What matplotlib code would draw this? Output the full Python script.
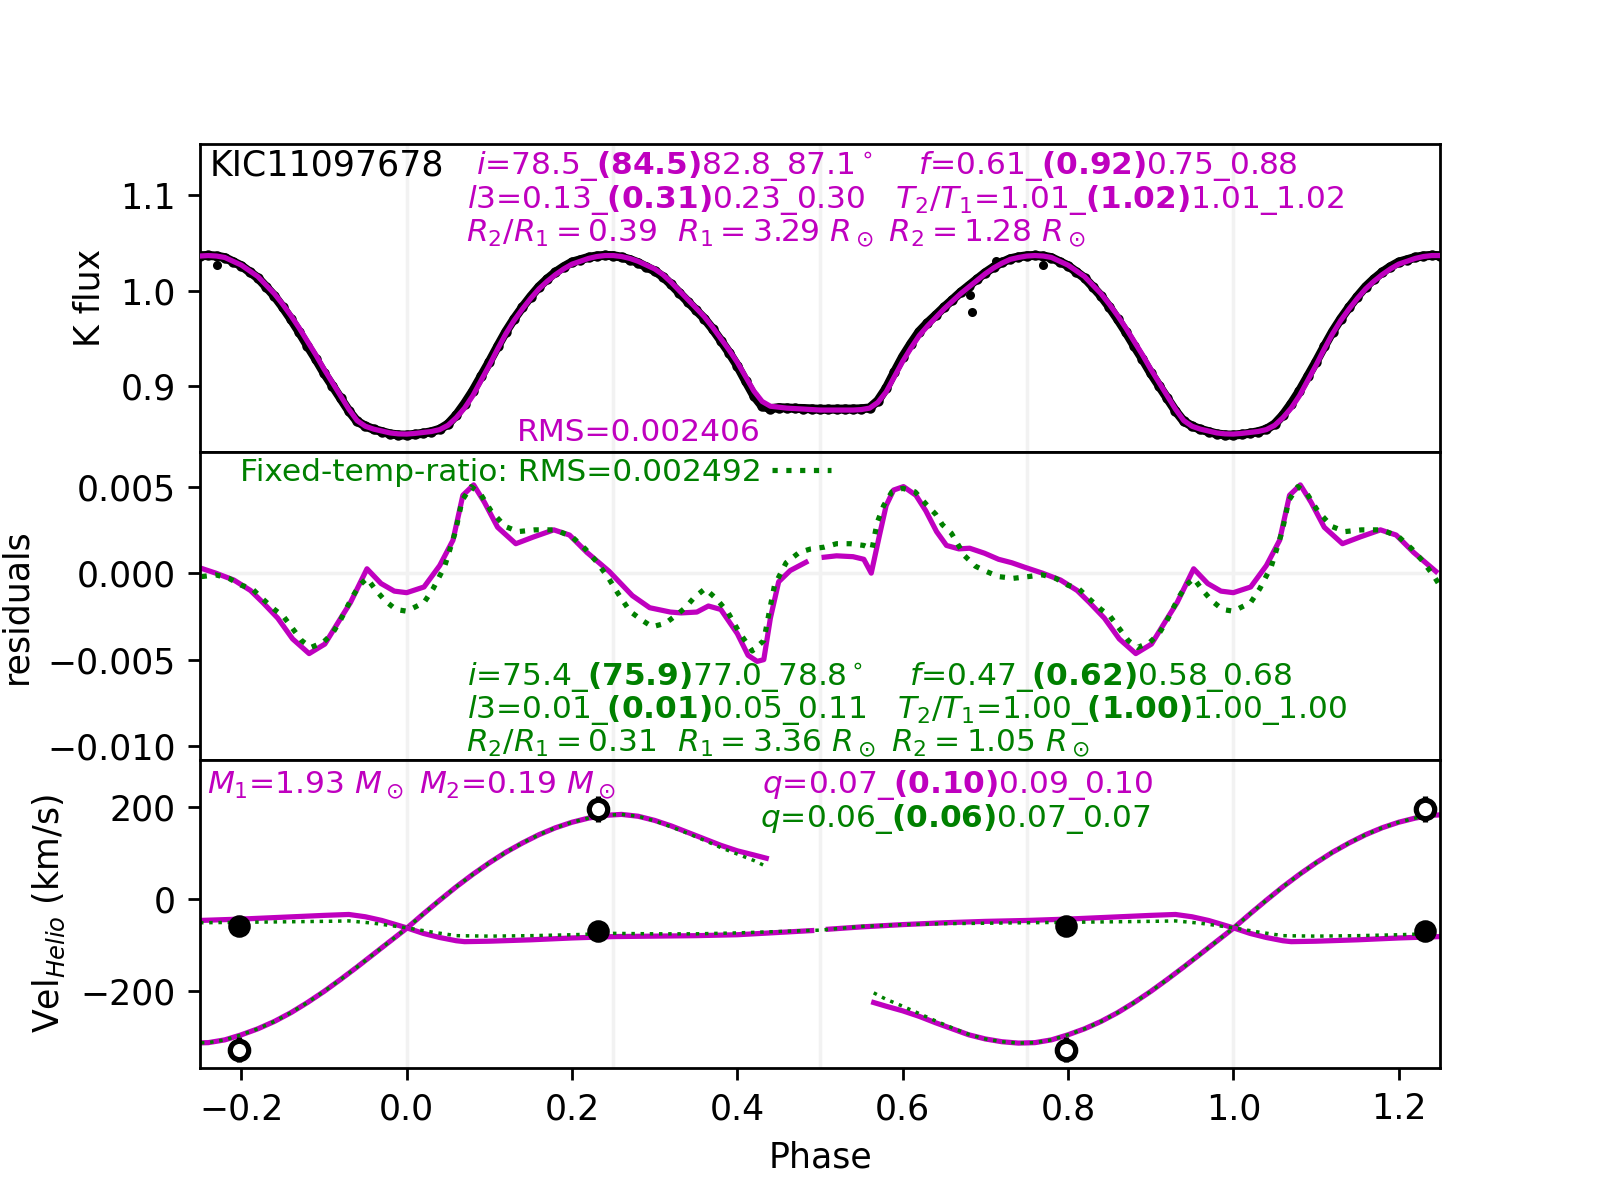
import numpy as np
import matplotlib
matplotlib.use("Agg")
import matplotlib.pyplot as plt

nan = np.nan

# ---- light curve, one phase cycle (tiled over -0.25..1.25 when drawn) ----
lc_phase = np.arange(101) / 100
lc_model = [0.8498, 0.8505, 0.8515, 0.8525, 0.8545, 0.859, 0.867, 0.877, 0.890, 0.906,
            0.922, 0.939, 0.955, 0.969, 0.981, 0.992, 1.002, 1.010, 1.017, 1.023,
            1.028, 1.031, 1.034, 1.036, 1.037, 1.037, 1.036, 1.034, 1.031, 1.027,
            1.023, 1.017, 1.009, 1.000, 0.991, 0.982, 0.973, 0.962, 0.950, 0.938,
            0.925, 0.910, 0.895, 0.884, 0.879, 0.878, 0.877, 0.8765, 0.876, 0.8755,
            0.875, 0.875, 0.875, 0.875, 0.875, 0.8755, 0.877, 0.883, 0.894, 0.910,
            0.926, 0.940, 0.953, 0.963, 0.972, 0.981, 0.989, 0.997, 1.004, 1.011,
            1.018, 1.024, 1.029, 1.033, 1.035, 1.0365, 1.037, 1.0365, 1.035, 1.031,
            1.027, 1.021, 1.015, 1.006, 0.997, 0.986, 0.974, 0.961, 0.947, 0.933,
            0.918, 0.904, 0.890, 0.876, 0.864, 0.858, 0.855, 0.853, 0.851, 0.850,
            0.8498]
obs_phase = np.arange(100) / 100
lc_obs = [0.8487, 0.8495, 0.8507, 0.8523, 0.8549, 0.8603, 0.8697, 0.8817, 0.8951, 0.9104,
          0.9256, 0.9417, 0.9572, 0.9707, 0.9828, 0.9940, 1.0042, 1.0124, 1.0195, 1.0253,
          1.0301, 1.0326, 1.0351, 1.0366, 1.0372, 1.0369, 1.0353, 1.0328, 1.0295, 1.0251,
          1.0209, 1.0148, 1.0067, 0.9977, 0.9887, 0.9798, 0.9710, 0.9601, 0.9479, 0.9353,
          0.9215, 0.9055, 0.8900, 0.8790, 0.8764, 0.8775, 0.8771, 0.8768, 0.8766, 0.8762,
          0.8758, 0.8759, 0.8760, 0.8760, 0.8760, 0.8763, 0.8772, 0.8848, 0.8979, 0.9148,
          0.9310, 0.9447, 0.9573, 0.9664, 0.9745, 0.9828, 0.9905, 0.9984, 1.0054, 1.0123,
          1.0191, 1.0249, 1.0298, 1.0336, 1.0355, 1.0368, 1.0371, 1.0365, 1.0348, 1.0306,
          1.0263, 1.0200, 1.0136, 1.0042, 0.9946, 0.9830, 0.9703, 0.9568, 0.9424, 0.9286,
          0.9139, 0.9006, 0.8873, 0.8742, 0.8632, 0.8582, 0.8548, 0.8524, 0.8500, 0.8489]
out_phase = [0.684, 0.681, 0.770, 0.713]
out_flux = [0.978, 0.996, 1.027, 1.031]

# ---- residuals (smoothed), one cycle ----
res_phase_m = [0.000, 0.021, 0.040, 0.056, 0.068, 0.081, 0.094, 0.110, 0.132, 0.154,
               0.178, 0.197, 0.218, 0.245, 0.273, 0.294, 0.319, 0.332, 0.351, 0.365,
               0.380, 0.400, 0.413, 0.424, 0.432, 0.440, 0.450, 0.464, 0.483, 0.494,
               0.505, 0.520, 0.540, 0.553, 0.562, 0.572, 0.580, 0.589, 0.601, 0.616,
               0.628, 0.641, 0.653, 0.668, 0.681, 0.699, 0.716, 0.732, 0.747, 0.769,
               0.791, 0.811, 0.826, 0.844, 0.862, 0.882, 0.901, 0.919, 0.932, 0.952,
               0.969, 0.985]
res_m = [-0.00113, -0.0008, 0.00044, 0.0019, 0.0045, 0.0051, 0.0041, 0.00265, 0.0017, 0.0021,
         0.0025, 0.0022, 0.0012, 0.0001, -0.0013, -0.0020, -0.00225, -0.0023, -0.00225, -0.0019,
         -0.0021, -0.0035, -0.00475, -0.0051, -0.0050, -0.0026, -0.0005, 0.00015, 0.00063, nan,
         0.00092, 0.0010, 0.00095, 0.0008, 0.0000, 0.0022, 0.0039, 0.0048, 0.0050, 0.0045,
         0.0036, 0.0024, 0.0016, 0.0014, 0.00144, 0.00115, 0.0008, 0.0006, 0.00035, 0.0000,
         -0.0004, -0.0010, -0.0017, -0.0026, -0.0038, -0.00465, -0.0041, -0.0027, -0.0017, 0.00025,
         -0.0006, -0.00104]
res_phase_g = [0.000, 0.021, 0.032, 0.046, 0.059, 0.067, 0.078, 0.089, 0.102, 0.119,
               0.135, 0.155, 0.180, 0.200, 0.216, 0.229, 0.243, 0.256, 0.270, 0.284,
               0.297, 0.313, 0.327, 0.337, 0.348, 0.361, 0.375, 0.389, 0.402, 0.418,
               0.432, 0.440, 0.445, 0.459, 0.475, 0.489, 0.505, 0.520, 0.537, 0.553,
               0.563, 0.569, 0.577, 0.587, 0.600, 0.615, 0.628, 0.640, 0.648, 0.659,
               0.675, 0.688, 0.701, 0.716, 0.734, 0.752, 0.769, 0.785, 0.800, 0.813,
               0.826, 0.840, 0.851, 0.862, 0.873, 0.884, 0.899, 0.910, 0.919, 0.934,
               0.943, 0.952, 0.963, 0.974, 0.987]
res_g = [-0.0022, -0.0017, -0.0009, 0.0004, 0.0024, 0.0042, 0.0050, 0.0046, 0.0036, 0.0027,
         0.0024, 0.0025, 0.0025, 0.0021, 0.0014, 0.0007, -0.0002, -0.0012, -0.0022, -0.0027,
         -0.0031, -0.0029, -0.0024, -0.0020, -0.0014, -0.0009, -0.0015, -0.0023, -0.0034, -0.0045,
         -0.0039, -0.0019, -0.0007, 0.0006, 0.0012, 0.0014, 0.0015, 0.0017, 0.0017, 0.0016,
         0.0014, 0.0029, 0.0039, 0.0047, 0.0049, 0.0047, 0.0040, 0.0034, 0.0028, 0.0023,
         0.0010, 0.0004, 0.0001, -0.0002, -0.0003, -0.0002, -0.0001, -0.0003, -0.0007, -0.0009,
         -0.0015, -0.0021, -0.0025, -0.0032, -0.0039, -0.0043, -0.0040, -0.0035, -0.0028, -0.0014,
         -0.0007, -0.0003, -0.0010, -0.0016, -0.0021]

# ---- radial velocities, one cycle ----
rv2_phase = [0.00, 0.02, 0.04, 0.06, 0.08, 0.10, 0.12, 0.14, 0.16, 0.18,
             0.20, 0.22, 0.24, 0.26, 0.28, 0.30, 0.32, 0.34, 0.36, 0.38,
             0.40, 0.42, 0.435, 0.50, 0.565, 0.58, 0.60, 0.62, 0.64, 0.66,
             0.68, 0.70, 0.72, 0.74, 0.76, 0.78, 0.80, 0.82, 0.84, 0.86,
             0.88, 0.90, 0.92, 0.94, 0.96, 0.98]
rv2_m = [-63, -32, -2, 27, 54, 79, 102, 122, 140, 155,
         167, 176, 182, 184, 180, 171, 159, 145, 131, 117,
         105, 96, 89, nan, -224, -232, -242, -254, -268, -281,
         -294, -303, -309, -312, -311, -305, -294, -281, -265, -246,
         -224, -200, -174, -147, -119, -91]
rv2_g = [-63, -32, -2, 27, 54, 79, 102, 122, 140, 155,
         167, 176, 182, 184, 180, 170, 157, 143, 128, 112,
         98, 84, 71, nan, -203, -217, -232, -248, -264, -279,
         -293, -303, -309, -312, -311, -305, -294, -281, -265, -246,
         -224, -200, -174, -147, -119, -91]
rv1_phase_m = [0.00, 0.02, 0.04, 0.06, 0.07, 0.10, 0.15, 0.20, 0.25, 0.30,
               0.35, 0.40, 0.45, 0.49, 0.50, 0.51, 0.55, 0.60, 0.65, 0.70,
               0.75, 0.80, 0.85, 0.90, 0.93, 0.95, 0.97]
rv1_m = [-62, -74, -83, -90, -92, -91, -88, -84, -81, -80,
         -79, -77, -72, -68, nan, -65, -60, -55, -51, -48,
         -46, -43, -39, -35, -33, -38, -46]
rv1_phase_g = [0.00, 0.03, 0.06, 0.10, 0.15, 0.20, 0.25, 0.30, 0.35, 0.40,
               0.45, 0.50, 0.55, 0.60, 0.65, 0.70, 0.75, 0.80, 0.85, 0.90,
               0.93, 0.96, 0.98]
rv1_g = [-62, -71, -79, -80, -79, -77, -74, -75, -75, -73,
         -70, -67, -59, -55, -53, -52, -51, -50, -49, -48,
         -47, -52, -57]
rv_obs_phase = [0.2316, 0.7976]
rv1_obs = [-69, -57]
rv1_err = [10, 10]
rv2_obs = [195, -326]
rv2_err = [28, 28]

MAG = "m"
GRN = "g"


def tile(phase, values, lo=-0.26, hi=1.26):
    x = np.concatenate([np.asarray(phase, float) + s for s in (-1, 0, 1)])
    y = np.tile(np.asarray(values, float), 3)
    keep = (x >= lo) & (x <= hi)
    return x[keep], y[keep]


fig, (ax1, ax2, ax3) = plt.subplots(3, 1, sharex=True, figsize=(6.4, 4.8))
fig.subplots_adjust(hspace=0)

for ax in (ax1, ax2, ax3):
    for xv in (0, 0.25, 0.5, 0.75, 1.0):
        ax.axvline(xv, color="0.95", lw=1, zorder=0)
ax2.axhline(0, color="0.95", lw=1, zorder=0)

# light curve
ax1.plot(*tile(obs_phase, lc_obs), "k-", lw=2.6, zorder=2)
ax1.plot(*tile(obs_phase, lc_obs), "ko", ms=2.0, zorder=2)
ax1.plot(*tile(out_phase, out_flux), "ko", ms=1.6, zorder=2)
ax1.plot(*tile(lc_phase, lc_model), color=MAG, lw=1.5, zorder=3)
ax1.set_ylim(0.831, 1.154)
ax1.set_yticks([0.9, 1.0, 1.1])
ax1.set_ylabel("K flux")

# residuals
ax2.plot(*tile(res_phase_m, res_m), color=MAG, lw=1.5)
gline, = ax2.plot(*tile(res_phase_g, res_g), color=GRN, lw=1.5, ls=":")
ax2.set_ylim(-0.0108, 0.0070)
ax2.set_yticks([-0.010, -0.005, 0.0, 0.005])
ax2.set_ylabel("residuals")
ax2.legend([gline], ["Fixed-temp-ratio: RMS=0.002492"], loc="upper left",
           bbox_to_anchor=(0.0225, 1.022), borderaxespad=0, frameon=False,
           markerfirst=False, labelcolor=GRN, fontsize=9,
           handlelength=1.9, handletextpad=0.3)

# radial velocities
ax3.plot(*tile(rv2_phase, rv2_m), color=MAG, lw=1.5)
ax3.plot(*tile(rv2_phase, rv2_g), color=GRN, lw=1.0, ls=":")
ax3.plot(*tile(rv1_phase_m, rv1_m), color=MAG, lw=1.5)
ax3.plot(*tile(rv1_phase_g, rv1_g), color=GRN, lw=1.0, ls=":")
px, py = tile(rv_obs_phase, rv1_obs)
_, pe = tile(rv_obs_phase, rv1_err)
ax3.errorbar(px, py, yerr=pe, fmt="o", color="k", ms=5.5, elinewidth=1.5,
             capsize=0, zorder=4)
sx, sy = tile(rv_obs_phase, rv2_obs)
_, se = tile(rv_obs_phase, rv2_err)
ax3.errorbar(sx, sy, yerr=se, fmt="o", color="k", mfc="white", mec="k", mew=1.5,
             ms=5.3, elinewidth=1.5, capsize=0, zorder=4)
ax3.set_ylim(-366, 302)
ax3.set_yticks([-200, 0, 200])
ax3.set_ylabel(r"Vel$_{Helio}$ (km/s)")
ax3.set_xlim(-0.25, 1.25)
ax3.set_xticks([-0.2, 0.0, 0.2, 0.4, 0.6, 0.8, 1.0, 1.2])
ax3.set_xlabel("Phase")

for ax in (ax1, ax2):
    ax.tick_params(axis="x", bottom=False, labelbottom=False)

# annotations
fs = 9
ax1.text(0.0081, 0.899, "KIC11097678", transform=ax1.transAxes, fontsize=10,
         va="baseline")
ax1.text(0.2223, 0.9016,
         r"$i$=78.5_$\mathbf{(84.5)}$82.8_87.1$^\circ$    $f$=0.61_$\mathbf{(0.92)}$0.75_0.88",
         transform=ax1.transAxes, color=MAG, fontsize=fs, va="baseline")
ax1.text(0.2152, 0.793,
         r"$l3$=0.13_$\mathbf{(0.31)}$0.23_0.30   $T_2/T_1$=1.01_$\mathbf{(1.02)}$1.01_1.02",
         transform=ax1.transAxes, color=MAG, fontsize=fs, va="baseline")
ax1.text(0.2145, 0.685,
         r"$R_2/R_1=0.39$  $R_1=3.29\ R_\odot$ $R_2=1.28\ R_\odot$",
         transform=ax1.transAxes, color=MAG, fontsize=fs, va="baseline")
ax1.text(0.2559, 0.037, "RMS=0.002406", transform=ax1.transAxes, color=MAG,
         fontsize=fs, va="baseline")

ax2.text(0.2152, 0.2435,
         r"$i$=75.4_$\mathbf{(75.9)}$77.0_78.8$^\circ$    $f$=0.47_$\mathbf{(0.62)}$0.58_0.68",
         transform=ax2.transAxes, color=GRN, fontsize=fs, va="baseline")
ax2.text(0.2152, 0.1354,
         r"$l3$=0.01_$\mathbf{(0.01)}$0.05_0.11   $T_2/T_1$=1.00_$\mathbf{(1.00)}$1.00_1.00",
         transform=ax2.transAxes, color=GRN, fontsize=fs, va="baseline")
ax2.text(0.2145, 0.027,
         r"$R_2/R_1=0.31$  $R_1=3.36\ R_\odot$ $R_2=1.05\ R_\odot$",
         transform=ax2.transAxes, color=GRN, fontsize=fs, va="baseline")

ax3.text(0.0059, 0.892, r"$M_1$=1.93 $M_\odot$ $M_2$=0.19 $M_\odot$",
         transform=ax3.transAxes, color=MAG, fontsize=fs, va="baseline")
ax3.text(0.453, 0.892, r"$q$=0.07_$\mathbf{(0.10)}$0.09_0.10",
         transform=ax3.transAxes, color=MAG, fontsize=fs, va="baseline")
ax3.text(0.452, 0.7815, r"$q$=0.06_$\mathbf{(0.06)}$0.07_0.07",
         transform=ax3.transAxes, color=GRN, fontsize=fs, va="baseline")

fig.savefig("out.png", dpi=250)
